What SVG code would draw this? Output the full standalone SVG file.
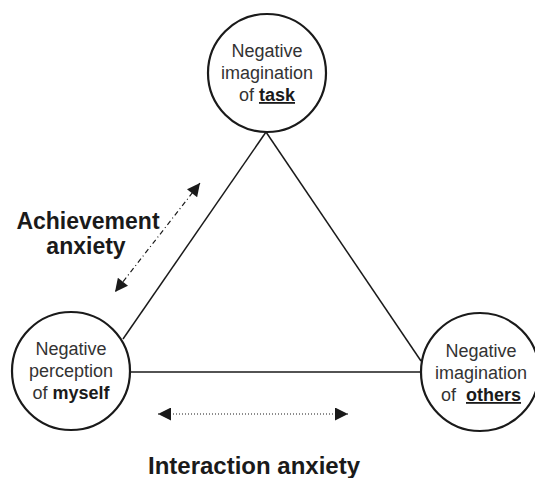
<svg xmlns="http://www.w3.org/2000/svg" width="535" height="478" viewBox="0 0 535 478">
<style>
.node{fill:#fff;stroke:#1a1a1a;stroke-width:2.2}
.lbl{font-family:"Liberation Sans",Arial,sans-serif;font-size:18px;fill:#333;text-anchor:middle}
.b{font-weight:bold;fill:#1a1a1a}
.u{text-decoration:underline}
.edge{stroke:#1a1a1a;stroke-width:1.5;fill:none}
.big{font-family:"Liberation Sans",Arial,sans-serif;font-weight:bold;fill:#1a1a1a;text-anchor:middle}
</style>
<defs>
<marker id="ah" viewBox="0 0 10 10" refX="10" refY="5" markerWidth="15" markerHeight="13" markerUnits="userSpaceOnUse" orient="auto-start-reverse">
<path d="M0,0 L10,5 L0,10 z" fill="#1a1a1a"/>
</marker>
</defs>
<g id="connectors">
<line class="edge" x1="266" y1="132" x2="123" y2="339"/>
<line class="edge" x1="266" y1="132" x2="421" y2="361"/>
<line class="edge" x1="130" y1="372" x2="421" y2="372"/>
<line stroke="#1a1a1a" stroke-width="1.2" stroke-dasharray="5,3,1,3" x1="200" y1="183" x2="115" y2="292" marker-start="url(#ah)" marker-end="url(#ah)"/>
<line stroke="#1a1a1a" stroke-width="1" stroke-dasharray="1,2" x1="158" y1="414" x2="348" y2="414" marker-start="url(#ah)" marker-end="url(#ah)"/>
</g>
<g id="node-task">
<circle class="node" cx="267" cy="73" r="59"/>
<text class="lbl" x="267" y="57">Negative</text>
<text class="lbl" x="267" y="79">imagination</text>
<text class="lbl" x="267" y="101">of <tspan class="b u">task</tspan></text>
</g>
<g id="node-myself">
<circle class="node" cx="71" cy="371" r="59"/>
<text class="lbl" x="71" y="355">Negative</text>
<text class="lbl" x="71" y="377">perception</text>
<text class="lbl" x="71" y="399">of <tspan class="b">myself</tspan></text>
</g>
<g id="node-others">
<circle class="node" cx="480" cy="372" r="59"/>
<text class="lbl" x="481" y="357">Negative</text>
<text class="lbl" x="481" y="379">imagination</text>
<text class="lbl" x="481" y="401" xml:space="preserve">of  <tspan class="b u">others</tspan></text>
</g>
<g id="labels">
<text class="big" font-size="23" x="88" y="229">Achievement</text>
<text class="big" font-size="23" x="86" y="254">anxiety</text>
<text class="big" font-size="24" x="254" y="474">Interaction anxiety</text>
</g>
</svg>
